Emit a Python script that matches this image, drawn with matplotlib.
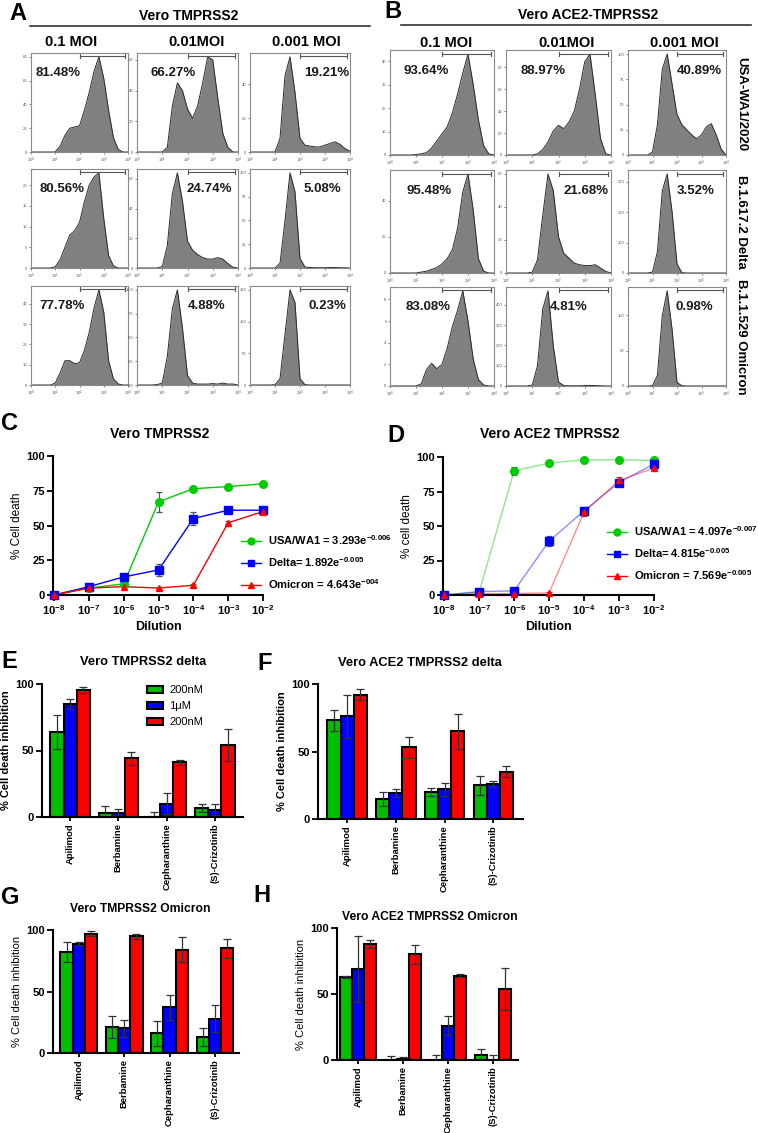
import numpy as np
import matplotlib
matplotlib.use('Agg')
import matplotlib.pyplot as plt
from matplotlib.lines import Line2D
from matplotlib.patches import Patch
from matplotlib.ticker import MaxNLocator

plt.rcParams['font.family'] = ['Liberation Sans', 'DejaVu Sans']
plt.rcParams['mathtext.fontset'] = 'custom'
plt.rcParams['mathtext.rm'] = 'Liberation Sans'
plt.rcParams['mathtext.bf'] = 'Liberation Sans:bold'
plt.rcParams['mathtext.it'] = 'Liberation Sans:italic'

# ---------------- data ----------------
moi_labels = ['0.1 MOI', '0.01MOI', '0.001 MOI']
variant_labels = ['USA-WA1/2020', 'B.1.617.2 Delta', 'B.1.1.529 Omicron']

# histogram bins: log10 fluorescence
hist_log_x = [0.0, 0.2, 0.4, 0.6, 0.8, 1.0, 1.2, 1.4, 1.6, 1.8, 2.0,
              2.2, 2.4, 2.6, 2.8, 3.0, 3.2, 3.4, 3.6, 3.8, 4.0]
hist_tick_labels = [r'$10^{0}$', r'$10^{1}$', r'$10^{2}$', r'$10^{3}$', r'$10^{4}$']

# Panel A: Vero TMPRSS2 (rows: WA1, Delta, Omicron; cols: 0.1, 0.01, 0.001 MOI)
a_wa1_01 = [0, 0, 0, 0, 0, 0, 5, 14, 20, 21, 22, 35, 50, 68, 80, 62, 35, 12, 2, 0, 0]
a_wa1_001 = [0, 0, 0, 0, 0, 0, 3, 30, 45, 40, 28, 22, 30, 45, 62, 60, 35, 12, 3, 0, 0]
a_wa1_0001 = [0, 0, 0, 0, 0, 0, 8, 45, 56, 35, 8, 4, 3.5, 3, 3, 4, 5, 6, 4.5, 2, 0.5]
a_delta_01 = [0, 0, 0, 0, 0, 0.3, 2, 5, 8, 9, 11, 16, 20, 22, 23, 12, 3, 0.5, 0, 0, 0]
a_delta_001 = [0, 0, 0, 0, 0, 1, 15, 50, 64, 45, 18, 12, 9, 7, 6, 6, 7, 6, 3, 0.5, 0]
a_delta_0001 = [0, 0, 0, 0, 0, 0, 5, 50, 100, 80, 10, 1, 0.5, 0.3, 0.3, 0.3, 0.5, 0.5, 0.3, 0.2, 0]
a_omi_01 = [0, 0, 0, 0, 0, 1, 6, 12, 12, 10.5, 11, 17, 26, 38, 47, 36, 12, 3, 0.5, 0, 0]
a_omi_001 = [0, 0, 0, 0, 0.05, 0.2, 3, 8, 10, 6, 1, 0.2, 0.1, 0.1, 0.1, 0.15, 0.1, 0.2, 0.1, 0.1, 0]
a_omi_0001 = [0, 0, 0, 0, 0, 0.5, 10, 80, 150, 130, 10, 0.5, 0, 0, 0, 0, 0, 0, 0, 0, 0]

# Panel B: Vero ACE2-TMPRSS2
b_wa1_01 = [0, 0, 0, 0, 0, 0.2, 0.5, 1, 3, 6, 9, 12, 18, 26, 35, 43, 30, 15, 4, 0.5, 0]
b_wa1_001 = [0, 0, 0, 0, 0, 0, 1, 5, 12, 22, 27, 24, 30, 40, 60, 85, 92, 55, 15, 1, 0]
b_wa1_0001 = [0, 0, 0, 0, 0, 3, 30, 85, 100, 70, 40, 30, 25, 20, 16, 20, 28, 31, 20, 6, 0]
b_delta_01 = [0, 0, 0, 0, 0, 0, 0.5, 1, 2, 3, 5, 8, 13, 25, 45, 55, 35, 8, 1, 0, 0]
b_delta_001 = [0, 0, 0, 0, 0, 0.5, 8, 35, 60, 50, 22, 12, 9, 6, 5, 4.5, 4.5, 5, 3, 1, 0]
b_delta_0001 = [0, 0, 0, 0, 0, 3, 70, 270, 325, 200, 30, 1, 0, 0, 0, 0, 0, 0, 0, 0, 0]
b_omi_01 = [0, 0, 0, 0, 0, 0, 0.2, 1.5, 2.1, 1.6, 2, 3.5, 5.5, 7, 8.8, 6, 2.5, 0.6, 0.1, 0, 0]
b_omi_001 = [0, 0, 0, 0, 0, 5, 100, 380, 470, 200, 20, 2, 1, 1, 1, 2, 3, 2, 1, 0, 0]
b_omi_0001 = [0, 0, 0, 0, 0, 0.5, 15, 100, 135, 80, 5, 0.5, 0, 0, 0, 0, 0, 0, 0, 0, 0]

a_pct = [['81.48%', '66.27%', '19.21%'],
         ['80.56%', '24.74%', '5.08%'],
         ['77.78%', '4.88%', '0.23%']]
b_pct = [['93.64%', '88.97%', '40.89%'],
         ['95.48%', '21.68%', '3.52%'],
         ['83.08%', '4.81%', '0.98%']]

# Panels C/D: dilution curves
dilution = [1e-8, 1e-7, 1e-6, 1e-5, 1e-4, 1e-3, 1e-2]
dilution_labels = [r'$\mathbf{10^{-8}}$', r'$\mathbf{10^{-7}}$', r'$\mathbf{10^{-6}}$',
                   r'$\mathbf{10^{-5}}$', r'$\mathbf{10^{-4}}$', r'$\mathbf{10^{-3}}$',
                   r'$\mathbf{10^{-2}}$']
c_wa1 = [0, 5, 8, 67, 76.5, 78, 80]
c_wa1_err = [0, 0.5, 1, 7, 0.8, 0.8, 0.8]
c_delta = [0, 6, 13, 18, 55, 61, 61]
c_delta_err = [0, 1, 1.5, 4.5, 4.5, 1, 1]
c_omicron = [0, 5, 6, 5, 7, 52, 60]
c_omicron_err = [0, 1, 2, 1, 1, 1, 1]
d_wa1 = [0, 2, 90, 95.5, 98, 98, 97.5]
d_wa1_err = [0, 1, 3, 1, 0.5, 0.5, 0.5]
d_delta = [0, 2.5, 3, 39, 61, 81.5, 95]
d_delta_err = [0, 0.5, 1, 3.5, 2.5, 2, 2]
d_omicron = [0, 1, 1, 1.5, 60, 83, 92]
d_omicron_err = [0, 0.5, 0.5, 0.5, 3, 2.5, 1.5]
c_legend = [r'USA/WA1 = 3.293e$^{\mathbf{-0.006}}$',
            r'Delta= 1.892e$^{\mathbf{-0.005}}$',
            r'Omicron = 4.643e$^{\mathbf{-004}}$']
d_legend = [r'USA/WA1 = 4.097e$^{\mathbf{-0.007}}$',
            r'Delta= 4.815e$^{\mathbf{-0.005}}$',
            r'Omicron = 7.569e$^{\mathbf{-0.005}}$']

# Panels E-H: bar charts (rows: 200nM, 1uM, 200nM)
drugs = ['Apilimod', 'Berbamine', 'Cepharanthine', '(S)-Crizotinib']
conc_labels = ['200nM', '1\u03bcM', '200nM']
e_vals = [[64, 3, 0, 7], [85, 3, 10, 5.5], [95.5, 44, 41, 54]]
e_err = [[13, 5, 4, 3], [4, 3, 8, 4], [2, 5, 2, 12]]
f_vals = [[73, 15, 20, 25], [76, 19, 22, 26], [92, 53, 65, 35]]
f_err = [[8, 5, 3, 7], [16, 3, 5, 2], [4, 8, 13, 4]]
g_vals = [[82, 21, 16, 13], [89, 20, 37, 28], [97, 95, 84, 85]]
g_err = [[8, 9, 10, 7], [1, 7, 10, 11], [2, 2, 10, 8]]
h_vals = [[63, 0, 0, 4], [69, 1, 26, 0], [88, 80, 64, 54]]
h_err = [[1, 3, 4, 4], [25, 1, 7, 4], [3, 7, 1, 16]]

# ---------------- layout helpers ----------------
W, H = 758, 1133
fig = plt.figure(figsize=(W / 100, H / 100), dpi=100)


def px_axes(x0, y0, x1, y1):
    return fig.add_axes([x0 / W, 1 - y1 / H, (x1 - x0) / W, (y1 - y0) / H])


def ftext(x, y, s, **kw):
    kw.setdefault('ha', 'center')
    kw.setdefault('va', 'center')
    fig.text(x / W, 1 - y / H, s, **kw)


def fline(x0, x1, y, **kw):
    fig.add_artist(Line2D([x0 / W, x1 / W], [1 - y / H, 1 - y / H], **kw))


def draw_hist(ax, counts, pct, pct_x):
    ax.fill_between(hist_log_x, counts, color='#808080', lw=0)
    ax.plot(hist_log_x, counts, color='#2a2a2a', lw=0.7)
    ax.set_xlim(0, 4)
    ax.set_ylim(0, max(counts) * 1.04)
    ax.set_xticks([0, 1, 2, 3, 4])
    ax.set_xticklabels(hist_tick_labels)
    ax.yaxis.set_major_locator(MaxNLocator(nbins=5, steps=[1, 2, 2.5, 5, 10]))
    ax.tick_params(labelsize=3, colors='#555555', length=1.5, width=0.5, pad=1)
    for s in ax.spines.values():
        s.set_color('#8a8a8a')
        s.set_linewidth(0.8)
    # gate bracket
    gy = 0.965
    ax.plot([0.5, 0.97], [gy, gy], transform=ax.transAxes, color='#555555', lw=0.8)
    for gx in (0.5, 0.97):
        ax.plot([gx, gx], [gy - 0.02, gy + 0.02], transform=ax.transAxes,
                color='#555555', lw=0.8)
    ax.text(pct_x, 0.8, pct, transform=ax.transAxes, ha='center', va='center',
            fontsize=9.5, fontweight='bold', color='#1a1a1a')


# ---------------- Panel A ----------------
ftext(18, 14, 'A', fontsize=17, fontweight='bold')
ftext(189, 16, 'Vero TMPRSS2', fontsize=10, fontweight='bold')
fline(30, 370, 26, color='#333333', lw=1.2)
for x, lab in zip([71, 197, 306], moi_labels):
    ftext(x, 42, lab, fontsize=10.5, fontweight='bold')

a_hists = [[a_wa1_01, a_wa1_001, a_wa1_0001],
           [a_delta_01, a_delta_001, a_delta_0001],
           [a_omi_01, a_omi_001, a_omi_0001]]
a_cols = [(31, 128), (137, 238), (250, 350)]
a_rows = [(53, 152), (169, 268), (286, 385)]
a_pct_x = [[0.28, 0.36, 0.77], [0.32, 0.72, 0.72], [0.32, 0.69, 0.77]]
for r, (y0, y1) in enumerate(a_rows):
    for c, (x0, x1) in enumerate(a_cols):
        ax = px_axes(x0, y0, x1, y1)
        draw_hist(ax, a_hists[r][c], a_pct[r][c], a_pct_x[r][c])

# ---------------- Panel B ----------------
ftext(393, 11, 'B', fontsize=17, fontweight='bold')
ftext(588, 15, 'Vero ACE2-TMPRSS2', fontsize=10, fontweight='bold')
fline(401, 751, 25, color='#333333', lw=1.2)
for x, lab in zip([446, 567, 684], moi_labels):
    ftext(x, 43, lab, fontsize=10.5, fontweight='bold')

b_hists = [[b_wa1_01, b_wa1_001, b_wa1_0001],
           [b_delta_01, b_delta_001, b_delta_0001],
           [b_omi_01, b_omi_001, b_omi_0001]]
b_cols = [(390, 494), (506, 611), (628, 726)]
b_rows = [(50, 155), (170, 273), (287, 386)]
b_pct_x = [[0.35, 0.35, 0.73], [0.38, 0.76, 0.69], [0.37, 0.6, 0.68]]
for r, (y0, y1) in enumerate(b_rows):
    for c, (x0, x1) in enumerate(b_cols):
        ax = px_axes(x0, y0, x1, y1)
        draw_hist(ax, b_hists[r][c], b_pct[r][c], b_pct_x[r][c])
for yc, lab in zip([104, 222, 337], variant_labels):
    ftext(741, yc, lab, fontsize=9.5, fontweight='bold', rotation=-90)

# ---------------- Panels C, D ----------------
GREEN, BLUE, RED = '#00cc00', '#0000ff', '#ff0000'


def draw_curve(ax, series, line_alpha, ylabel):
    for (vals, err, col, mk, ms) in series:
        ax.plot(dilution, vals, color=col, lw=1.0, alpha=line_alpha, zorder=2)
        ax.errorbar(dilution, vals, yerr=err, fmt='none', ecolor='#555555',
                    elinewidth=0.9, capsize=2.5, capthick=0.9, zorder=3, clip_on=False)
        ax.plot(dilution, vals, ls='none', marker=mk, ms=ms, color=col, zorder=4,
                clip_on=False)
    ax.set_xscale('log')
    ax.set_xlim(10 ** -8.03, 1e-2)
    ax.set_ylim(0, 100)
    ax.set_xticks(dilution)
    ax.set_xticklabels(dilution_labels)
    ax.minorticks_off()
    ax.set_yticks([0, 25, 50, 75, 100])
    ax.set_yticklabels(['0', '25', '50', '75', '100'], fontweight='bold')
    ax.tick_params(labelsize=8, width=1.3, length=4, pad=2)
    for s in ['top', 'right']:
        ax.spines[s].set_visible(False)
    for s in ['left', 'bottom']:
        ax.spines[s].set_linewidth(1.5)
    ax.set_xlabel('Dilution', fontsize=9, fontweight='bold', labelpad=3)
    ax.set_ylabel(ylabel, fontsize=8.5, labelpad=2)


ax_c = px_axes(53, 456, 263, 595)
draw_curve(ax_c, [(c_wa1, c_wa1_err, GREEN, 'o', 5.5),
                  (c_delta, c_delta_err, BLUE, 's', 5.5),
                  (c_omicron, c_omicron_err, RED, '^', 5)], 1.0, '% Cell death')
ftext(9, 423, 'C', fontsize=17, fontweight='bold')
ftext(160, 434, 'Vero TMPRSS2', fontsize=10, fontweight='bold')

ax_d = px_axes(443, 457, 654, 595)
draw_curve(ax_d, [(d_wa1, d_wa1_err, GREEN, 'o', 5.5),
                  (d_delta, d_delta_err, BLUE, 's', 5.5),
                  (d_omicron, d_omicron_err, RED, '^', 5)], 0.45, '% cell death')
ftext(396, 435, 'D', fontsize=17, fontweight='bold')
ftext(550, 434, 'Vero ACE2 TMPRSS2', fontsize=10, fontweight='bold')


def curve_legend(ax, labels, x, y):
    handles = [Line2D([], [], color=GREEN, marker='o', ms=5, lw=1),
               Line2D([], [], color=BLUE, marker='s', ms=5, lw=1),
               Line2D([], [], color=RED, marker='^', ms=5, lw=1)]
    leg = ax.legend(handles, labels, loc='upper left', frameon=False,
                    bbox_to_anchor=(x / W, 1 - y / H), bbox_transform=fig.transFigure,
                    prop={'weight': 'bold', 'size': 8}, handlelength=1.8,
                    handletextpad=0.6, labelspacing=0.75, borderaxespad=0,
                    borderpad=0)
    return leg


curve_legend(ax_c, c_legend, 241, 533)
curve_legend(ax_d, d_legend, 607, 524)

# ---------------- Panels E-H ----------------
BAR_COLORS = ['#00c000', '#0000ff', '#ff0000']


def draw_bars(ax, vals, errs, xlim, ylabel, ylabel_weight):
    x = np.arange(len(drugs))
    w = 0.27
    for i, (v, e, col) in enumerate(zip(vals, errs, BAR_COLORS)):
        ax.bar(x + (i - 1) * w, v, w, color=col, edgecolor='black', lw=1.5,
               yerr=e, capsize=3,
               error_kw=dict(ecolor='#333333', elinewidth=0.9, capthick=0.9))
    ax.set_xlim(*xlim)
    ax.set_ylim(0, 100)
    ax.set_yticks([0, 50, 100])
    ax.set_yticklabels(['0', '50', '100'], fontweight='bold')
    ax.set_xticks(x)
    ax.set_xticklabels(drugs, rotation=90, fontweight='bold')
    ax.tick_params(axis='y', labelsize=8, width=1.3, length=4, pad=2)
    ax.tick_params(axis='x', labelsize=6.8, width=1.3, length=3, pad=1.5)
    for s in ['top', 'right']:
        ax.spines[s].set_visible(False)
    for s in ['left', 'bottom']:
        ax.spines[s].set_linewidth(1.5)
    ax.set_ylabel(ylabel, fontsize=8, fontweight=ylabel_weight, labelpad=3)


ax_e = px_axes(42, 684, 243, 817)
draw_bars(ax_e, e_vals, e_err, (-0.58, 3.58), '% Cell death inhibition', 'bold')
ftext(9, 662, 'E', fontsize=17, fontweight='bold')
ftext(143, 662, 'Vero TMPRSS2 delta', fontsize=9.3, fontweight='bold')
ax_e.legend([Patch(facecolor=c, edgecolor='black', lw=1.5) for c in BAR_COLORS],
            conc_labels, loc='upper left', frameon=False,
            bbox_to_anchor=(147 / W, 1 - 685 / H), bbox_transform=fig.transFigure,
            fontsize=8, handlelength=1.4, handleheight=0.6, labelspacing=0.55,
            handletextpad=0.6, borderaxespad=0, borderpad=0)

ax_f = px_axes(318, 684, 523, 819)
draw_bars(ax_f, f_vals, f_err, (-0.6, 3.61), '% Cell death inhibition', 'bold')
ftext(265, 664, 'F', fontsize=17, fontweight='bold')
ftext(420, 663, 'Vero ACE2 TMPRSS2 delta', fontsize=9.3, fontweight='bold')

ax_g = px_axes(53, 930, 239, 1053)
draw_bars(ax_g, g_vals, g_err, (-0.57, 3.53), '% Cell death inhibition', 'normal')
ftext(10, 898, 'G', fontsize=17, fontweight='bold')
ftext(140, 909, 'Vero TMPRSS2 Omicron', fontsize=8.7, fontweight='bold')

ax_h = px_axes(337, 928, 518, 1060)
draw_bars(ax_h, h_vals, h_err, (-0.47, 3.56), '% Cell death inhibition', 'normal')
ftext(262, 895, 'H', fontsize=17, fontweight='bold')
ftext(430, 917, 'Vero ACE2 TMPRSS2 Omicron', fontsize=8.7, fontweight='bold')

fig.savefig('out.png', dpi=100)
